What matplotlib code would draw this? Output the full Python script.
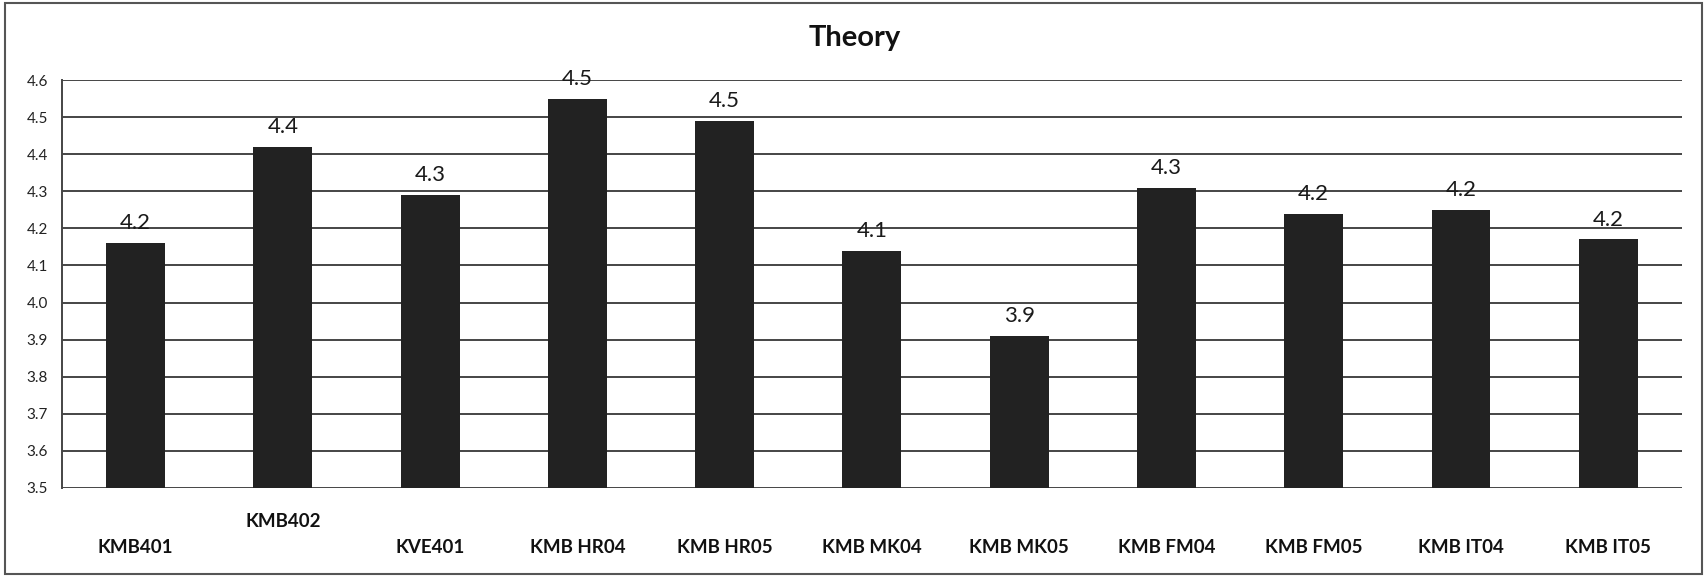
import matplotlib
matplotlib.use("Agg")
import matplotlib.pyplot as plt
from matplotlib.patches import Rectangle

# Course codes and their mean "Theory" scores
categories = ["KMB401", "KMB402", "KVE401", "KMB HR04", "KMB HR05", "KMB MK04",
              "KMB MK05", "KMB FM04", "KMB FM05", "KMB IT04", "KMB IT05"]
scores = [4.16, 4.42, 4.29, 4.55, 4.49, 4.14, 3.91, 4.31, 4.24, 4.25, 4.17]
y_ticks = [3.5, 3.6, 3.7, 3.8, 3.9, 4.0, 4.1, 4.2, 4.3, 4.4, 4.5, 4.6]
title = "Theory"

plt.rcParams["font.family"] = ["Lato", "DejaVu Sans"]

fig = plt.figure(figsize=(17.07, 5.76), dpi=100)
ax = fig.add_axes([0.0363, 0.1528, 0.9490, 0.7083])

x = list(range(len(categories)))
ax.bar(x, [s - y_ticks[0] for s in scores], bottom=y_ticks[0], width=0.40,
       color="#222222", zorder=3)

for xi, s in zip(x, scores):
    ax.annotate(f"{s:.1f}", (xi, s), xytext=(0, 10), textcoords="offset points",
                ha="center", va="baseline", fontsize=16, color="#1a1a1a", zorder=4)

ax.set_xlim(-0.5, len(categories) - 0.5)
ax.set_ylim(y_ticks[0], y_ticks[-1])
ax.set_yticks(y_ticks)
ax.set_yticklabels([f"{t:.1f}" for t in y_ticks], fontsize=11, color="#222222")
ax.yaxis.grid(True, color="#454545", linewidth=1.4, zorder=1)
ax.set_axisbelow(True)

ax.set_xticks(x)
ax.set_xticklabels(categories, fontsize=13.5, fontweight="bold", color="#111111")
ax.tick_params(axis="x", length=0, pad=37)
ax.tick_params(axis="y", length=0, pad=10)
ax.xaxis.get_major_ticks()[1].set_pad(18)

for side in ("top", "right", "bottom"):
    ax.spines[side].set_visible(False)
ax.spines["left"].set_color("#454545")
ax.spines["left"].set_linewidth(1.4)

fig.text(0.501, 0.920, title, ha="center", va="baseline",
         fontsize=21, fontweight="bold", color="#111111")

# Chart area frame
fig.patches.append(Rectangle((0.003, 0.004), 0.994, 0.991, transform=fig.transFigure,
                             fill=False, edgecolor="#555555", linewidth=1.5))

fig.savefig("out.png", dpi=100)
